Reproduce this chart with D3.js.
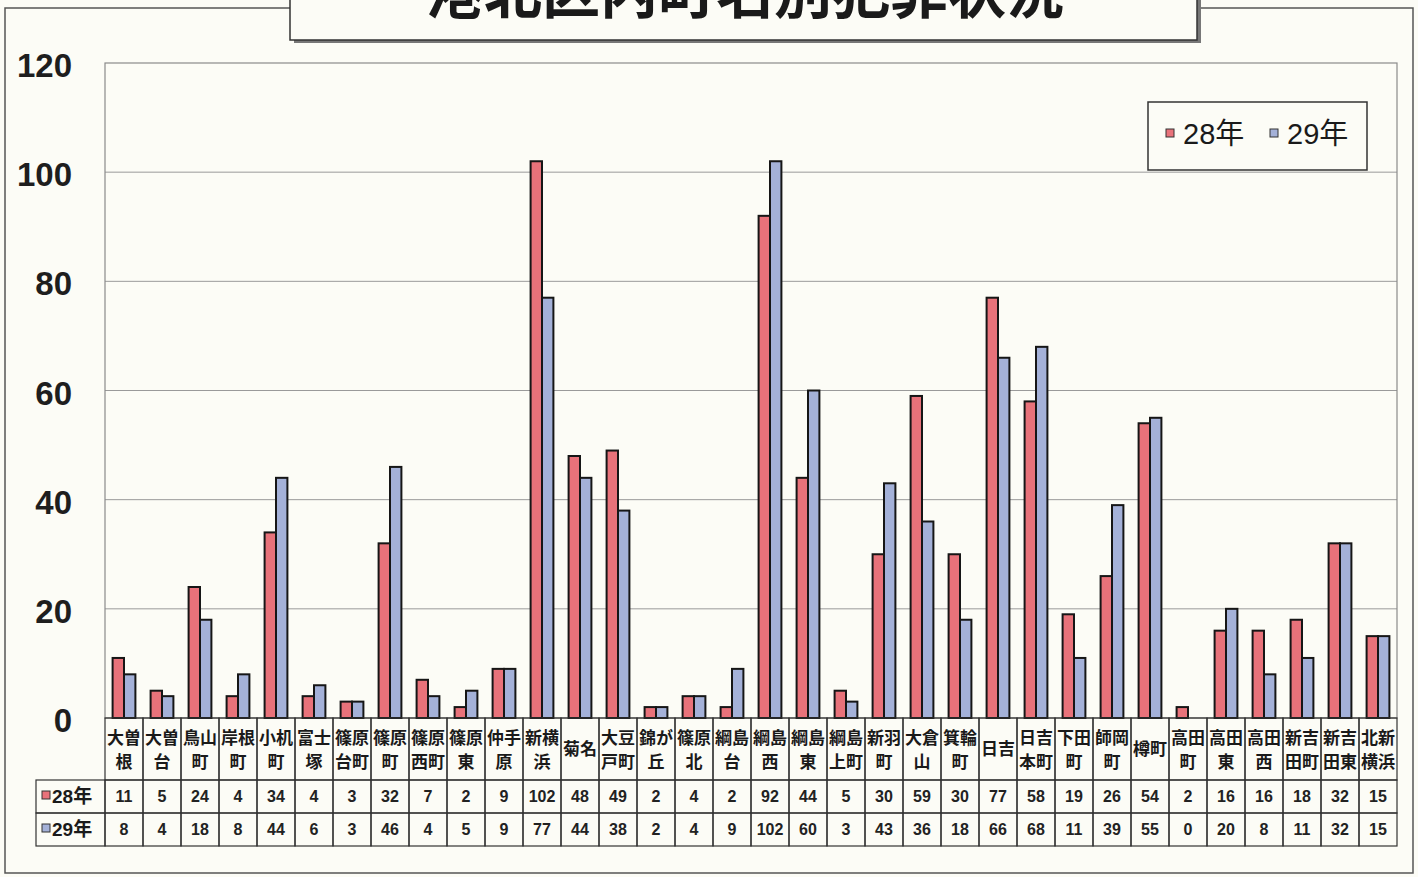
<!DOCTYPE html>
<html>
<head>
<meta charset="utf-8">
<script src="https://cdn.jsdelivr.net/npm/d3@7"></script>
<style>
  body { margin: 0; background: #fcfcf6; }
  svg { display: block; font-family: "Liberation Sans", Arial, "Noto Sans CJK JP", sans-serif; }
  .grid { stroke: #9a9a9a; stroke-width: 1; }
  .frame { fill: none; stroke: #8a8a8a; stroke-width: 1.2; }
  .tick { font-family: "Liberation Sans", Arial, sans-serif; font-weight: bold; font-size: 33px; fill: #1e1e1e; text-anchor: end; }
  .bar { stroke: #161616; stroke-width: 2; }
  .cell { stroke: #333; stroke-width: 1.2; fill: none; }
  .cat { font-family: "Noto Sans CJK JP", sans-serif; font-weight: bold; font-size: 17px; fill: #1a1a1a; text-anchor: middle; }
  .val { font-size: 16px; font-weight: bold; fill: #222; text-anchor: middle; }
  .rowlabel { font-family: "Liberation Sans", "Noto Sans CJK JP", sans-serif; font-weight: bold; font-size: 19px; fill: #1a1a1a; }
  .legend { font-family: "Liberation Sans", "Noto Sans CJK JP", sans-serif; font-size: 29px; fill: #1a1a1a; }
  .title { font-family: "Noto Sans CJK JP", sans-serif; font-weight: bold; font-size: 58px; fill: #1a1a1a; text-anchor: middle; }
</style>
</head>
<body>
<svg width="1418" height="877"></svg>
<script>
const title = "港北区内町名別犯罪状況";

const towns = [
  "大曽\n根", "大曽\n台", "鳥山\n町", "岸根\n町", "小机\n町", "富士\n塚", "篠原\n台町",
  "篠原\n町", "篠原\n西町", "篠原\n東", "仲手\n原", "新横\n浜", "菊名", "大豆\n戸町",
  "錦が\n丘", "篠原\n北", "綱島\n台", "綱島\n西", "綱島\n東", "綱島\n上町", "新羽\n町",
  "大倉\n山", "箕輪\n町", "日吉", "日吉\n本町", "下田\n町", "師岡\n町", "樽町",
  "高田\n町", "高田\n東", "高田\n西", "新吉\n田町", "新吉\n田東", "北新\n横浜"
];

const h28 = [11, 5, 24, 4, 34, 4, 3, 32, 7, 2, 9, 102, 48, 49, 2, 4, 2, 92, 44, 5, 30, 59, 30, 77, 58, 19, 26, 54, 2, 16, 16, 18, 32, 15];
const h29 = [8, 4, 18, 8, 44, 6, 3, 46, 4, 5, 9, 77, 44, 38, 2, 4, 9, 102, 60, 3, 43, 36, 18, 66, 68, 11, 39, 55, 0, 20, 8, 11, 32, 15];

const seriesNames = ["28年", "29年"];
const seriesColors = ["#e8727a", "#a4b1d8"];
const yTicks = [0, 20, 40, 60, 80, 100, 120];

const svg = d3.select("svg");

const data = towns.map((t, i) => ({ town: t, values: [h28[i], h29[i]] }));

const plotLeft = 105, plotRight = 1397, plotTop = 63, plotBottom = 718;

const x0 = d3.scaleBand().domain(d3.range(towns.length)).range([plotLeft, plotRight]);
const bw = x0.bandwidth();
const x1 = d3.scaleBand().domain([0, 1]).range([bw * 0.2, bw * 0.8]);
const y = d3.scaleLinear().domain([0, 120]).range([plotBottom, plotTop]);

// outer frame
svg.append("rect")
  .attr("x", 5).attr("y", 8).attr("width", 1408).attr("height", 865)
  .attr("fill", "#fcfcf6").attr("stroke", "#555").attr("stroke-width", 1.5);

// gridlines
svg.selectAll("line.grid")
  .data(yTicks.filter(d => d > 0 && d < 120))
  .enter()
  .append("line")
  .attr("class", "grid")
  .attr("x1", plotLeft).attr("x2", plotRight)
  .attr("y1", d => y(d)).attr("y2", d => y(d));

svg.append("rect")
  .attr("class", "frame")
  .attr("x", plotLeft).attr("y", y(120))
  .attr("width", plotRight - plotLeft).attr("height", y(0) - y(120));

// y labels
svg.selectAll("text.tick")
  .data(yTicks)
  .enter()
  .append("text")
  .attr("class", "tick")
  .attr("x", 72)
  .attr("y", d => y(d) + 14)
  .text(d => d);

// bars
const groups = svg.selectAll("g.town")
  .data(data)
  .enter()
  .append("g")
  .attr("class", "town")
  .attr("transform", (d, i) => `translate(${x0(i)}, 0)`);

groups.selectAll("rect")
  .data(d => d.values)
  .enter()
  .append("rect")
  .attr("class", "bar")
  .attr("x", (d, j) => x1(j))
  .attr("width", x1.bandwidth())
  .attr("y", d => y(d))
  .attr("height", d => y(0) - y(d))
  .attr("fill", (d, j) => seriesColors[j])
  .style("display", d => d > 0 ? null : "none");

// data table
const rowTop = 780, rowH = 33;
const tableLeft = 36;

groups.append("rect")
  .attr("class", "cell")
  .attr("x", 0).attr("y", plotBottom)
  .attr("width", bw).attr("height", rowTop - plotBottom);

groups.each(function (d) {
  const lines = d.town.split("\n");
  const g = d3.select(this);
  if (lines.length === 1) {
    g.append("text").attr("class", "cat")
      .attr("x", bw / 2).attr("y", 755)
      .attr("font-size", d.town === "樽町" ? 14 : 17)
      .text(lines[0]);
  } else {
    lines.forEach((l, k) => {
      g.append("text").attr("class", "cat")
        .attr("x", bw / 2).attr("y", 744 + k * 24)
        .text(l);
    });
  }
});

[0, 1].forEach(j => {
  groups.append("rect")
    .attr("class", "cell")
    .attr("x", 0).attr("y", rowTop + j * rowH)
    .attr("width", bw).attr("height", rowH);
  groups.append("text")
    .attr("class", "val")
    .attr("x", bw / 2)
    .attr("y", rowTop + j * rowH + 22)
    .text(d => d.values[j]);

  svg.append("rect")
    .attr("class", "cell")
    .attr("x", tableLeft).attr("y", rowTop + j * rowH)
    .attr("width", plotLeft - tableLeft).attr("height", rowH);
  svg.append("rect")
    .attr("x", 42).attr("y", rowTop + j * rowH + 11)
    .attr("width", 8).attr("height", 8)
    .attr("fill", seriesColors[j]).attr("stroke", "#333").attr("stroke-width", 1);
  svg.append("text")
    .attr("class", "rowlabel")
    .attr("x", 52).attr("y", rowTop + j * rowH + 23)
    .text(seriesNames[j]);
});

// legend
svg.append("rect")
  .attr("x", 1148).attr("y", 102).attr("width", 219).attr("height", 68)
  .attr("fill", "#fcfcf6").attr("stroke", "#333").attr("stroke-width", 1.5);

const legendX = [1166, 1270];
seriesNames.forEach((s, j) => {
  svg.append("rect")
    .attr("x", legendX[j]).attr("y", 129)
    .attr("width", 8).attr("height", 8)
    .attr("fill", seriesColors[j]).attr("stroke", "#333").attr("stroke-width", 1);
  svg.append("text")
    .attr("class", "legend")
    .attr("x", legendX[j] + 17).attr("y", 144)
    .text(s);
});

// title box
svg.append("rect")
  .attr("x", 294).attr("y", -20).attr("width", 907).attr("height", 63)
  .attr("fill", "#777");
svg.append("rect")
  .attr("x", 290).attr("y", -22).attr("width", 907).attr("height", 62)
  .attr("fill", "#fcfcf6").attr("stroke", "#333").attr("stroke-width", 1.5);
svg.append("text")
  .attr("class", "title")
  .attr("x", 745).attr("y", 13)
  .text(title);
</script>
</body>
</html>
